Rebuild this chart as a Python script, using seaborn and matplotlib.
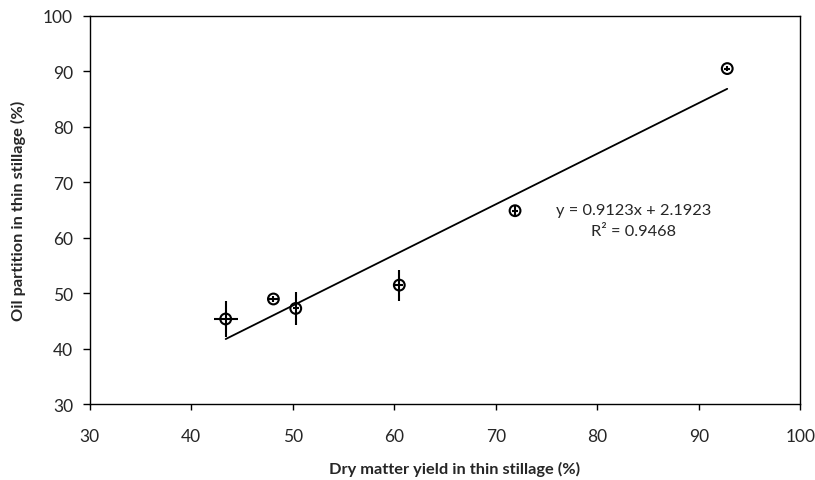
import numpy as np
import pandas as pd
import matplotlib
matplotlib.use("Agg")
import matplotlib.pyplot as plt
import seaborn as sns

# Data
dry_matter = [43.4, 48.1, 50.3, 60.5, 71.9, 92.8]
oil_partition = [45.4, 49.0, 47.3, 51.5, 64.9, 90.5]
x_err = [1.2, 0.5, 0.3, 0.4, 0.3, 0.3]
y_err = [3.2, 0.5, 2.9, 2.8, 1.0, 0.4]
slope = 0.9123
intercept = 2.1923
equation_text = "y = 0.9123x + 2.1923"
r2_text = "R² = 0.9468"
x_ticks = [30, 40, 50, 60, 70, 80, 90, 100]
y_ticks = [30, 40, 50, 60, 70, 80, 90, 100]

sns.set_style("white")
plt.rcParams["font.family"] = ["Lato", "DejaVu Sans"]

fig = plt.figure(figsize=(8.15, 4.81), dpi=100)
ax = fig.add_axes([0.110, 0.157, 0.872, 0.808])

df = pd.DataFrame({"x": dry_matter, "y": oil_partition})

# trendline
line_x = np.array([min(dry_matter), max(dry_matter)])
trend = pd.DataFrame({"x": line_x, "y": slope * line_x + intercept})
sns.lineplot(data=trend, x="x", y="y", ax=ax, color="black", linewidth=1.3)

# error bars
ax.errorbar(dry_matter, oil_partition, xerr=x_err, yerr=y_err, fmt="none",
            ecolor="black", elinewidth=1.5, capsize=0, zorder=3)
sns.scatterplot(data=df, x="x", y="y", ax=ax, marker="o", s=60,
                facecolors="none", edgecolor="black", linewidth=1.5, zorder=4)

ax.text(83.6, 65.0, equation_text, ha="center", va="center", fontsize=11.8)
ax.text(83.6, 61.2, r2_text, ha="center", va="center", fontsize=11.8)

ax.set_xlim(30, 100)
ax.set_ylim(30, 100)
ax.set_xticks(x_ticks)
ax.set_yticks(y_ticks)
ax.tick_params(axis="x", direction="out", length=4, width=1, color="black",
               labelsize=12.5, bottom=True, pad=13)
ax.tick_params(axis="y", direction="out", length=5, width=1, color="black",
               labelsize=12.5, left=True, pad=7)
for s in ax.spines.values():
    s.set_color("black")
    s.set_linewidth(1)

ax.set_xlabel("Dry matter yield in thin stillage (%)", fontsize=11.8, fontweight="bold", labelpad=12)
ax.set_ylabel("Oil partition in thin stillage (%)", fontsize=11.8, fontweight="bold", labelpad=12)
ax.xaxis.set_label_coords(0.514, -0.145)

fig.savefig("out.png", dpi=100)
